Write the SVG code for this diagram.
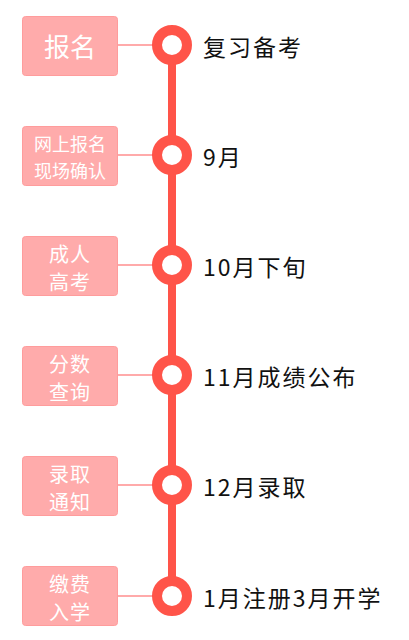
<svg xmlns="http://www.w3.org/2000/svg" width="409" height="640" viewBox="0 0 409 640">
<style>
.box{fill:#FFABAB;stroke:#FF9C9C;stroke-width:1}
.bt{fill:#FFFFFF;font-family:"Noto Sans CJK SC","Noto Sans",sans-serif;text-anchor:middle;dominant-baseline:central}
.conn{stroke:#FFAAAA;stroke-width:2;fill:none}
.dot{fill:#FFFFFF;stroke:#FF5449;stroke-width:10}
.lt{fill:#111111;font-family:"Noto Sans CJK SC","Noto Sans",sans-serif;font-size:23px;font-weight:normal;letter-spacing:2px;dominant-baseline:central}
</style>
<rect width="409" height="640" fill="#FFFFFF"/>
<g id="connectors">
<line x1="172" y1="45" x2="172" y2="596" stroke="#FF5449" stroke-width="8"/>
<line class="conn" x1="118" y1="45" x2="155" y2="45"/>
<line class="conn" x1="118" y1="155" x2="155" y2="155"/>
<line class="conn" x1="118" y1="265" x2="155" y2="265"/>
<line class="conn" x1="118" y1="375" x2="155" y2="375"/>
<line class="conn" x1="118" y1="485" x2="155" y2="485"/>
<line class="conn" x1="118" y1="596" x2="155" y2="596" stroke="#F5D0D0"/>
</g>
<g id="n1"><rect class="box" x="22.5" y="16.5" width="95" height="59" rx="3"/><text class="bt" x="70" y="45" font-size="26">报名</text></g>
<g id="n2"><rect class="box" x="22.5" y="126.5" width="95" height="59" rx="3"/><text class="bt" x="70" y="143" font-size="18">网上报名</text><text class="bt" x="70" y="170" font-size="18">现场确认</text></g>
<g id="n3"><rect class="box" x="22.5" y="236.5" width="95" height="59" rx="3"/><text class="bt" x="70" y="253" font-size="20" letter-spacing="1">成人</text><text class="bt" x="70" y="281" font-size="20" letter-spacing="1">高考</text></g>
<g id="n4"><rect class="box" x="22.5" y="346.5" width="95" height="59" rx="3"/><text class="bt" x="70" y="363" font-size="20" letter-spacing="1">分数</text><text class="bt" x="70" y="391" font-size="20" letter-spacing="1">查询</text></g>
<g id="n5"><rect class="box" x="22.5" y="456.5" width="95" height="59" rx="3"/><text class="bt" x="70" y="473" font-size="20" letter-spacing="1">录取</text><text class="bt" x="70" y="501" font-size="20" letter-spacing="1">通知</text></g>
<g id="n6"><rect class="box" x="22.5" y="566.5" width="95" height="59" rx="3"/><text class="bt" x="70" y="583" font-size="20" letter-spacing="1">缴费</text><text class="bt" x="70" y="611" font-size="20" letter-spacing="1">入学</text></g>
<g id="d1"><circle class="dot" cx="172" cy="45" r="15"/><text class="lt" x="203" y="46">复习备考</text></g>
<g id="d2"><circle class="dot" cx="172" cy="155" r="15"/><text class="lt" x="203" y="156">9月</text></g>
<g id="d3"><circle class="dot" cx="172" cy="265" r="15"/><text class="lt" x="203" y="266">10月下旬</text></g>
<g id="d4"><circle class="dot" cx="172" cy="375" r="15"/><text class="lt" x="203" y="376">11月成绩公布</text></g>
<g id="d5"><circle class="dot" cx="172" cy="485" r="15"/><text class="lt" x="203" y="486">12月录取</text></g>
<g id="d6"><circle class="dot" cx="172" cy="596" r="15"/><text class="lt" x="203" y="597">1月注册3月开学</text></g>
</svg>
